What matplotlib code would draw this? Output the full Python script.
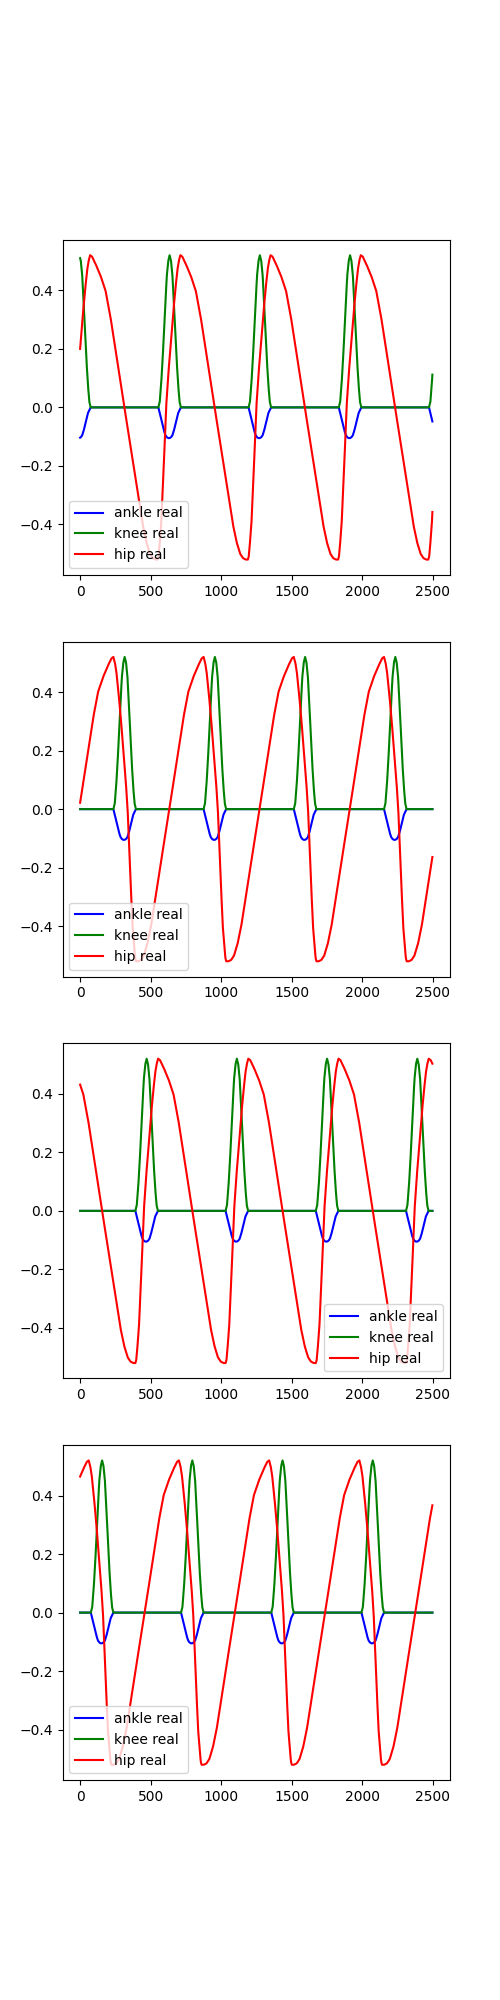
import numpy as np
import matplotlib
matplotlib.use('Agg')
import matplotlib.pyplot as plt

# one gait cycle (640 samples), t = 0 at start of knee swing
period = 640
knee_t = [0, 10, 20, 30, 40, 50, 60, 70, 80, 90, 100, 110, 120, 130, 140, 150, 160, 640]
knee_v = [0, 0.02, 0.08, 0.16, 0.26, 0.36, 0.45, 0.50, 0.52, 0.50, 0.45, 0.36, 0.26, 0.16, 0.08, 0.02, 0, 0]
ankle_t = [0, 10, 20, 30, 40, 50, 60, 70, 80, 90, 100, 110, 120, 130, 140, 150, 160, 640]
ankle_v = [0, -0.02, -0.04, -0.06, -0.08, -0.095, -0.102, -0.105, -0.105, -0.102, -0.095, -0.08, -0.06, -0.04, -0.02, -0.01, 0, 0]
# hip, t = 0 at its minimum
hip_t = [0, 6, 12, 25, 40, 60, 75, 90, 108, 125, 140, 150, 161, 175, 200, 235, 270, 305, 340,
         372, 404, 437, 470, 502, 534, 560, 585, 605, 625, 640]
hip_v = [-0.52, -0.51, -0.48, -0.40, -0.24, 0.0, 0.11, 0.2, 0.31, 0.4, 0.47, 0.5, 0.52, 0.515, 0.49, 0.45, 0.4, 0.31, 0.2,
         0.1, 0.0, -0.1, -0.2, -0.3, -0.4, -0.46, -0.50, -0.515, -0.52, -0.52]

# per panel: knee swing start, hip minimum, hip direction (1 = slow fall, -1 = slow rise)
knee_start = [555, 236, 392, 76]
hip_min = [550, 397, 392, 222]
hip_dir = [1, -1, 1, -1]
legend_loc = ['lower left', 'lower left', 'lower right', 'lower left']

x = np.arange(2500)

fig = plt.figure(figsize=(5, 20))
for i in range(4):
    ax = fig.add_subplot(4, 1, i + 1)
    ankle = np.interp((x - knee_start[i]) % period, ankle_t, ankle_v)
    knee = np.interp((x - knee_start[i]) % period, knee_t, knee_v)
    hip = np.interp((hip_dir[i] * (x - hip_min[i])) % period, hip_t, hip_v)
    ax.plot(x, ankle, color='blue', label='ankle real')
    ax.plot(x, knee, color='green', label='knee real')
    ax.plot(x, hip, color='red', label='hip real')
    ax.legend(loc=legend_loc[i])

plt.savefig('out.png')
